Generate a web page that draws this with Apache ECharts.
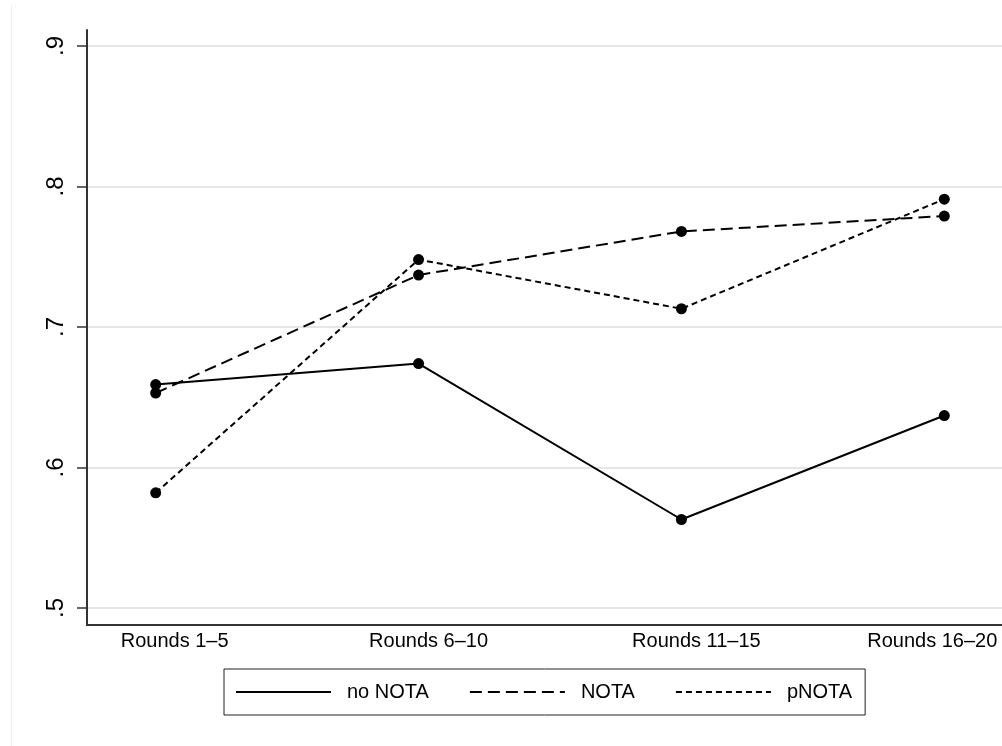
<!DOCTYPE html>
<html>
<head>
<meta charset="utf-8">
<script src="https://cdn.jsdelivr.net/npm/echarts@6/dist/echarts.min.js"></script>
<style>
html,body{margin:0;padding:0;background:#fff;}
#chart{width:1002px;height:746px;}
</style>
</head>
<body>
<div id="chart"></div>
<script>
const categories = ['Rounds 1\u20135', 'Rounds 6\u201310', 'Rounds 11\u201315', 'Rounds 16\u201320'];
const categoryPositions = [1, 2, 3, 4];
const seriesNames = ['no NOTA', 'NOTA', 'pNOTA'];
const noNOTA = [0.659, 0.674, 0.563, 0.637];
const nota = [0.653, 0.737, 0.768, 0.779];
const pNOTA = [0.582, 0.748, 0.713, 0.791];
const yTickValues = [0.5, 0.6, 0.7, 0.8, 0.9];
const yTickLabels = ['.5', '.6', '.7', '.8', '.9'];

const FONT = 'Liberation Sans, Arial, Helvetica, sans-serif';
const AXIS_COLOR = '#333';

function pairs(vals) { return categoryPositions.map((x, i) => [x, vals[i]]); }

// per-label horizontal nudges (px) to mimic original label placement
const labelShift = [19, 10, 15, -12];
const rich = {};
labelShift.forEach((s, i) => {
  rich['l' + i] = {
    fontFamily: FONT, fontSize: 20, color: '#000',
    padding: s >= 0 ? [0, 0, 0, 2 * s] : [0, -2 * s, 0, 0]
  };
});

const chart = echarts.init(document.getElementById('chart'), null, {renderer: 'canvas'});
const lineStyles = [
  {type: 'solid', width: 2},
  {type: [12, 6], width: 2},
  {type: [6, 4], width: 2}
];
const datasets = [noNOTA, nota, pNOTA];

chart.setOption({
  backgroundColor: '#fff',
  animation: false,
  grid: {left: 87, right: 0, top: 30, bottom: 121, containLabel: false},
  xAxis: {
    type: 'value',
    min: 0.7387,
    max: 4.2195,
    axisLine: {show: true, onZero: false, lineStyle: {color: AXIS_COLOR, width: 2}},
    axisTick: {show: false},
    splitLine: {show: false},
    axisLabel: {
      customValues: categoryPositions,
      margin: 6,
      formatter: function (v) {
        const i = categoryPositions.indexOf(v);
        return i < 0 ? '' : '{l' + i + '|' + categories[i] + '}';
      },
      rich: rich
    }
  },
  yAxis: {
    type: 'value',
    min: 0.4879,
    max: 0.9114,
    axisLine: {show: true, lineStyle: {color: AXIS_COLOR, width: 2}},
    axisTick: {show: true, length: 10, customValues: yTickValues, lineStyle: {color: AXIS_COLOR, width: 1.5}},
    splitLine: {show: true, lineStyle: {color: '#e6e6e6', width: 2}},
    axisLabel: {
      customValues: yTickValues,
      rotate: 90,
      margin: 19,
      fontFamily: FONT,
      fontSize: 24,
      color: '#000',
      formatter: function (v) {
        const i = yTickValues.findIndex(t => Math.abs(t - v) < 1e-6);
        return i < 0 ? '' : yTickLabels[i];
      }
    }
  },
  legend: {
    show: true,
    left: 224,
    top: 669,
    orient: 'horizontal',
    data: seriesNames,
    itemWidth: 95,
    itemHeight: 20,
    itemGap: 40,
    padding: [13, 13, 13, 11],
    borderColor: '#222',
    borderWidth: 1,
    itemStyle: {opacity: 0},
    textStyle: {fontFamily: FONT, fontSize: 20, color: '#000', padding: [0, 0, 0, 11]}
  },
  graphic: [{
    type: 'line',
    shape: {x1: 11.5, y1: 5, x2: 11.5, y2: 746},
    style: {stroke: '#f0f0f0', lineWidth: 1},
    silent: true
  }],
  series: seriesNames.map((name, i) => ({
    name: name,
    type: 'line',
    data: pairs(datasets[i]),
    symbol: 'circle',
    symbolSize: 11,
    color: '#000',
    itemStyle: {color: '#000'},
    lineStyle: Object.assign({color: '#000'}, lineStyles[i]),
    z: 3 - i
  }))
});
</script>
</body>
</html>
